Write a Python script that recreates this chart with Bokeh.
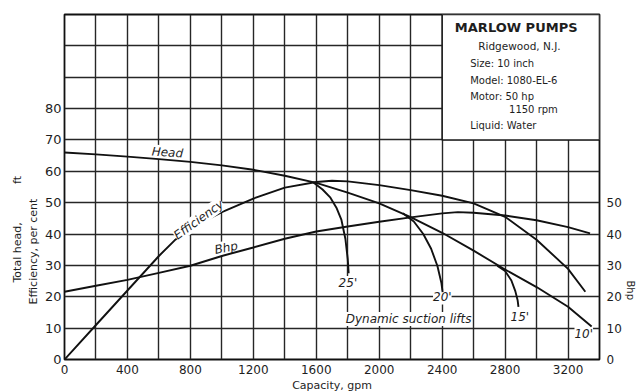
from bokeh.plotting import figure
from bokeh.models import FixedTicker, LinearAxis, Label, Range1d, Title
from bokeh.embed import file_html
from bokeh.resources import INLINE

# ---------------- data ----------------
capacity_ticks = [0, 400, 800, 1200, 1600, 2000, 2400, 2800, 3200]
capacity_grid = [0, 200, 400, 600, 800, 1000, 1200, 1400, 1600, 1800, 2000,
                 2200, 2400, 2600, 2800, 3000, 3200, 3400]
left_ticks = [0, 10, 20, 30, 40, 50, 60, 70, 80]
left_grid = [0, 10, 20, 30, 40, 50, 60, 70, 80, 90, 100, 110]
bhp_ticks = [0, 10, 20, 30, 40, 50]

head_gpm = [0, 200, 400, 600, 800, 1000, 1200, 1400, 1600, 1800, 2000, 2200,
            2400, 2600, 2800, 3000, 3200, 3350]
head_ft = [66, 65.4, 64.7, 63.9, 63.0, 61.9, 60.5, 58.6, 56.3, 53.2, 49.8, 45.4,
           40.4, 34.7, 28.7, 23.1, 16.8, 10.5]

eff_gpm = [0, 200, 400, 600, 700, 800, 1000, 1200, 1400, 1600, 1700, 1800,
           2000, 2200, 2400, 2600, 2800, 3000, 3200, 3310]
eff_pct = [0, 11, 22, 33, 38, 41.8, 47, 51.3, 54.8, 56.6, 57, 56.8,
           55.6, 54, 52.2, 49.8, 45.5, 38.2, 28.9, 21.6]

bhp_gpm = [0, 200, 400, 600, 800, 1000, 1200, 1400, 1600, 1800, 2000, 2200,
           2400, 2500, 2600, 2800, 3000, 3200, 3340]
bhp_val = [21.6, 23.5, 25.4, 27.6, 29.9, 33, 35.7, 38.5, 40.8, 42.4, 43.9, 45.3,
           46.6, 47, 46.8, 45.9, 44.4, 42.2, 40.2]

lift25_gpm = [1580, 1640, 1690, 1730, 1760, 1785, 1800, 1806]
lift25_ft = [56.5, 54.2, 51.6, 48.2, 44.5, 38.5, 32, 27.5]
lift20_gpm = [2150, 2220, 2280, 2330, 2370, 2395, 2403]
lift20_ft = [46.6, 44, 40, 35.3, 29.8, 24.5, 21.5]
lift15_gpm = [2750, 2800, 2840, 2865, 2880, 2885]
lift15_ft = [29.9, 28.2, 25.2, 21.8, 18.8, 16.8]

info_title = "MARLOW  PUMPS"
info_place = "Ridgewood, N.J."
info_lines = ["Size: 10 inch", "Model: 1080-EL-6", "Motor: 50 hp", "1150 rpm", "Liquid: Water"]

FONT = "DejaVu Sans"
INK = "#1e1e1e"

p = figure(width=637, height=391, x_range=Range1d(0, 3400), y_range=Range1d(0, 110),
           output_backend="svg", toolbar_location=None,
           min_border_left=64, min_border_right=35, min_border_top=14, min_border_bottom=31)
p.background_fill_color = "white"
p.border_fill_color = "white"
p.outline_line_color = "#111111"
p.outline_line_width = 1.8

p.xgrid.ticker = FixedTicker(ticks=capacity_grid)
p.ygrid.ticker = FixedTicker(ticks=left_grid)
for g in (p.xgrid[0], p.ygrid[0]):
    g.grid_line_color = "#262626"
    g.grid_line_width = 1.4

p.xaxis.ticker = FixedTicker(ticks=capacity_ticks)
p.yaxis.ticker = FixedTicker(ticks=left_ticks)
right_axis = LinearAxis(ticker=FixedTicker(ticks=bhp_ticks))
p.add_layout(right_axis, "right")

for ax, size, standoff in ((p.xaxis[0], "12px", 5), (p.yaxis[0], "13px", 3), (right_axis, "12px", 7)):
    ax.axis_line_color = None
    ax.major_tick_line_color = None
    ax.minor_tick_line_color = None
    ax.major_tick_in = 0
    ax.major_tick_out = 0
    ax.minor_tick_in = 0
    ax.minor_tick_out = 0
    ax.major_label_text_font = FONT
    ax.major_label_text_font_size = size
    ax.major_label_text_color = INK
    ax.major_label_standoff = standoff


def side_title(text, where, size, align, offset, standoff):
    t = Title(text=text, align=align, offset=offset, standoff=standoff,
              text_font=FONT, text_font_size=size, text_font_style="normal",
              text_color=INK)
    p.add_layout(t, where)


side_title("Efficiency, per cent", "left", "11px", "left", 55, 3)
side_title("Total head," + "\u00a0" * 11 + "ft", "left", "11px", "left", 77, 0)
side_title("Bhp", "right", "10px", "left", 266, 0)
side_title("Capacity, gpm", "below", "11px", "center", -13, 0)

# info box
p.quad(left=[2400], right=[3400], bottom=[70], top=[110],
       fill_color="white", line_color="#1a1a1a", line_width=1.6)

# curves
p.line(eff_gpm, eff_pct, line_color="#111111", line_width=1.9)
for xs, ys in ((head_gpm, head_ft), (bhp_gpm, bhp_val), (lift25_gpm, lift25_ft),
               (lift20_gpm, lift20_ft), (lift15_gpm, lift15_ft)):
    p.line(xs, ys, line_color="#111111", line_width=1.9, level="overlay")


def lab(x, y, text, size="12px", style="italic", align="center", baseline="middle",
        angle=0.0, bg=True):
    kw = dict(x=x, y=y, text=text, text_font=FONT, text_font_size=size,
              text_font_style=style, text_align=align, text_baseline=baseline,
              angle=angle, text_color=INK)
    if bg:
        kw["background_fill_color"] = "white"
    p.add_layout(Label(**kw))


# curve labels
lab(654, 66.0, "Head", angle=-0.07)
lab(853, 44.6, "Efficiency", angle=0.63)
lab(1027, 35.6, "Bhp", angle=0.2)
lab(1801, 24.4, "25'")
lab(2401, 19.8, "20'")
lab(2894, 13.4, "15'")
lab(3300, 8.1, "10'")
lab(2187, 12.9, "Dynamic suction lifts")

# info box text
lab(2885, 105.9, info_title, size="13px", style="bold", bg=False)
lab(2891, 100.1, info_place, size="10.5px", style="normal", bg=False)
info_x = [2578, 2578, 2578, 2825, 2578]
info_y = [94.4, 89.0, 83.9, 79.8, 74.7]
for t, xx, yy in zip(info_lines, info_x, info_y):
    lab(xx, yy, t, size="10px", style="normal", align="left", bg=False)

open("out.html", "w").write(file_html(p, INLINE))
